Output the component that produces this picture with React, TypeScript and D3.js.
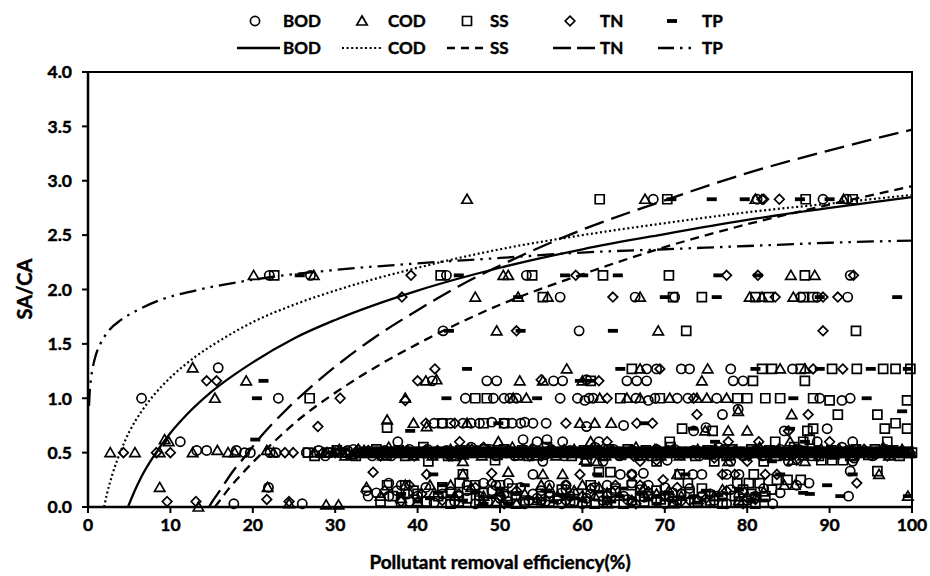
import React from 'react';
import * as d3 from 'd3';

type P = [number, number];

const xTickValues = [0, 10, 20, 30, 40, 50, 60, 70, 80, 90, 100];
const yTickValues = [0, 0.5, 1.0, 1.5, 2.0, 2.5, 3.0, 3.5, 4.0];
const seriesNames = ['BOD', 'COD', 'SS', 'TN', 'TP'];

const bodPoints: P[] = [
  [68.6,2.83],[81.2,2.83],[89.2,2.83],[92.1,2.83],
  [22.0,2.13],[27.0,2.13],[43.5,2.13],[53.2,2.13],[92.5,2.13],
  [57.3,1.93],[66.4,1.93],[71.2,1.93],[86.5,1.93],[88.5,1.93],[92.2,1.93],
  [43.1,1.62],[59.6,1.62],
  [15.8,1.28],[67.8,1.27],[69.0,1.27],[72,1.27],[73,1.27],[78,1.27],[85.5,1.27],
  [41.8,1.16],[48.4,1.16],[49.6,1.16],[56.5,1.16],[57.6,1.16],[60.5,1.17],[65.4,1.16],[66.6,1.16],[67.8,1.16],[78.3,1.16],[79.5,1.16],
  [6.5,1.0],[23.1,1.0],[45.8,1.0],[49.2,1.0],[50.5,1.0],[51.2,1.0],[52,1.0],[57.3,1.0],[59.4,1.0],[60.3,0.98],[60.8,1.0],[61.3,1.0],[66.5,1.0],[68.0,0.98],[68.8,1.0],[71.5,1.0],[72.8,1.0],[76.3,1.0],[88.8,1.0],[91.5,0.98],[92.5,1.0],
  [77,0.85],[78.9,0.9],
  [42,0.77],[43,0.77],[44,0.77],[45.5,0.77],[46.5,0.77],[47.5,0.77],[49,0.78],[50.5,0.77],[51.5,0.77],[52.5,0.77],[53,0.78],[54,0.77],[55.6,0.77],[60.5,0.74],[65,0.75],[73.5,0.7],[84.5,0.7],[89.7,0.72],[75,0.73],
  [11.2,0.6],[37.6,0.6],[52.8,0.62],[54.5,0.6],[55.7,0.62],[57.6,0.6],[62,0.6],[88.5,0.6],[92.8,0.6],
  [13.2,0.52],[14.4,0.52],[18,0.52],[19,0.5],[19.7,0.5],[22.1,0.5],[22.8,0.5],[26.5,0.5],[28,0.52],[29.3,0.5],[31.5,0.52],[33,0.5],[34.5,0.47],[36,0.52],[37.5,0.5],[39,0.53],[40.5,0.5],[42,0.48],[43.5,0.52],[45,0.5],[46.5,0.55],[48,0.5],[49.5,0.47],[51,0.52],[52.5,0.5],[54,0.53],[55.5,0.48],[57,0.5],[58.5,0.52],[60,0.5],[61.5,0.55],[63,0.5],[64.5,0.47],[66,0.52],[67.5,0.5],[69,0.53],[70.5,0.5],[72,0.48],[73.5,0.52],[75,0.5],[76.5,0.55],[78,0.5],[79.5,0.47],[81,0.52],[82.5,0.5],[84,0.53],[85.5,0.48],[87,0.5],[88.5,0.52],[90,0.5],[91.5,0.55],[93,0.45],[94.5,0.5],[96,0.5],[97.5,0.52],[99,0.5],
  [28.8,0.47],[30.5,0.5],[32.2,0.53],[33.8,0.5],[35.3,0.5],[36.8,0.47],[38.2,0.5],[39.8,0.5],[41.2,0.53],[42.8,0.5],[44.2,0.47],[45.8,0.5],[47.2,0.52],[48.8,0.53],[50.2,0.5],[51.8,0.47],[53.2,0.5],[54.8,0.5],[56.2,0.53],[57.8,0.47],[59.2,0.5],[60.8,0.52],[62.2,0.47],[63.8,0.53],[65.2,0.5],[66.8,0.47],[68.2,0.5],[69.8,0.5],[71.2,0.53],[72.8,0.5],[74.2,0.47],[75.8,0.5],[77.2,0.53],[78.8,0.5],[80.2,0.5],[81.8,0.47],[83.2,0.5],[84.8,0.5],[86.2,0.53],[87.8,0.47],[89.2,0.5],[90.8,0.5],[92.2,0.52],[95.2,0.47],[96.8,0.53],[98.2,0.5],[99.6,0.5],
  [55.2,0.42],[62.5,0.42],[70.3,0.43],[85,0.42],[92.8,0.42],[78,0.42],
  [54,0.3],[64.6,0.3],[66,0.3],[67.4,0.31],[73.4,0.3],[74.5,0.3],[77.5,0.3],[79,0.3],[92.5,0.33],
  [36.5,0.22],[38,0.2],[46,0.2],[48,0.22],[49.5,0.2],[51,0.22],[56,0.2],[58,0.2],[63,0.2],[66,0.22],[68,0.2],[86,0.2],[87.5,0.22],[21.9,0.18],[33.8,0.15],[35,0.13],
  [34,0.1],[36.5,0.1],[40,0.1],[45,0.1],[47.5,0.1],[50,0.08],[52,0.1],[54,0.12],[56,0.1],[58.5,0.1],[61,0.12],[63,0.1],[65,0.1],[68,0.1],[70.5,0.1],[72,0.12],[74.5,0.1],[77,0.1],[79,0.1],[81,0.1],[92.3,0.1],
  [37.5,0.15],[39,0.05],[41,0.18],[43,0.12],[44.5,0.05],[46,0.15],[48.5,0.05],[49,0.15],[51,0.05],[52.5,0.18],[53.5,0.06],[55,0.15],[57,0.07],[58,0.16],[59,0.05],[61.5,0.18],[62.5,0.06],[64,0.15],[65.5,0.07],[67,0.16],[69,0.06],[70,0.18],[71.5,0.06],[73,0.17],[76,0.06],[78,0.16],[80,0.06],[82,0.17],[84,0.13],
  [17.7,0.03],[26,0.03],[42,0.04],[47,0.03],[53,0.03],[55.5,0.05],[57.5,0.03],[60,0.03],[66,0.05],[70,0.03],[75,0.04],[77.5,0.03],[83.1,0.03],
  [38.8,0.12],[44,0.14],[50.5,0.12],[54.5,0.08],[57.5,0.13],[60.5,0.08],[63.5,0.13],[67.5,0.09],[71,0.13],[75.5,0.12],[79.5,0.13],
];

const codPoints: P[] = [
  [46,2.83],[67.6,2.83],[81.0,2.83],[91.7,2.83],
  [20.1,2.13],[27.4,2.13],[50.4,2.13],[51.0,2.13],[85.3,2.13],[88.2,2.13],
  [47,1.93],[52.2,1.93],[55.8,1.93],[67,1.93],[80.3,1.93],[81.8,1.93],[85.6,1.93],
  [49.6,1.62],[69.2,1.62],
  [12.7,1.28],[58.1,1.27],[67,1.27],[75.2,1.27],[84,1.27],[87,1.27],
  [19.2,1.16],[41,1.16],[42.3,1.17],[52.4,1.16],[55.2,1.16],[74.5,1.16],[60,1.16],
  [15.4,1.0],[38.5,1.0],[51.6,1.0],[53.2,1.0],[62.1,1.0],[65.4,1.0],[67,1.0],[70.6,1.0],[73.9,1.0],[75.1,1.0],[77.5,1.0],
  [85.4,0.85],[78.9,0.88],
  [36.3,0.8],[39.5,0.77],[41.1,0.74],[46,0.77],[59.7,0.77],[61.5,0.77],[63.5,0.77],[74.9,0.7],[77.7,0.7],[80,0.7],
  [9.3,0.62],[9.8,0.6],[49.8,0.6],[61,0.6],[85.2,0.6],
  [2.7,0.5],[5.7,0.5],[8.7,0.5],[12.7,0.5],[15.7,0.52],[17,0.5],[17.8,0.5],[21.7,0.52],[22.5,0.5],[27.5,0.5],
  [29,0.5],[30.5,0.53],[32,0.48],[33.5,0.52],[35,0.5],[36.5,0.55],[38,0.5],[39.5,0.47],[41,0.52],[42.5,0.5],[44,0.53],[45.5,0.48],[47,0.5],[48.5,0.52],[50,0.5],[51.5,0.55],[53,0.5],[54.5,0.47],[56,0.52],[57.5,0.5],[59,0.53],[60.5,0.48],[62,0.5],[63.5,0.52],[65,0.5],[66.5,0.55],[68,0.5],[69.5,0.47],[71,0.52],[72.5,0.5],[74,0.53],[75.5,0.48],[77,0.5],[78.5,0.52],[80,0.5],[81.5,0.55],[83,0.5],[84.5,0.47],[86,0.52],[87.5,0.5],[89,0.53],[90.5,0.48],[92,0.5],[93.5,0.52],[95,0.5],[96.5,0.55],[98,0.5],
  [29.8,0.5],[31.2,0.47],[32.8,0.53],[34.2,0.5],[35.8,0.47],[37.2,0.5],[38.8,0.52],[40.2,0.5],[41.8,0.47],[43.2,0.5],[44.8,0.5],[46.2,0.53],[47.8,0.47],[49.2,0.5],[50.8,0.5],[52.2,0.47],[53.8,0.53],[55.2,0.5],[56.8,0.47],[58.2,0.5],[59.8,0.5],[61.2,0.53],[62.8,0.47],[64.2,0.5],[65.8,0.5],[67.2,0.47],[68.8,0.53],[70.2,0.5],[71.8,0.47],[73.2,0.5],[74.8,0.5],[76.2,0.53],[77.8,0.47],[79.2,0.5],[80.8,0.5],[82.2,0.47],[83.8,0.53],[85.2,0.5],[86.8,0.47],[88.2,0.5],[89.8,0.5],[91.2,0.53],[92.8,0.47],[94.2,0.5],[95.8,0.5],[97.2,0.47],[98.8,0.53],[99.8,0.5],
  [45.5,0.42],[60.3,0.43],[61.8,0.42],[77.7,0.42],[85.5,0.43],[87,0.42],
  [45.5,0.3],[51,0.32],[55.2,0.3],[57.6,0.3],[71.5,0.3],[96,0.3],
  [8.7,0.18],[21.8,0.18],[33.8,0.18],[41.5,0.2],[44,0.2],[55,0.2],[60,0.2],[62,0.18],[84.5,0.2],[85.8,0.2],
  [35.5,0.1],[38,0.08],[44.5,0.1],[48,0.1],[53,0.12],[57,0.1],[61.5,0.1],[64.5,0.1],[69,0.12],[72,0.1],[76,0.1],[80,0.1],[99.5,0.1],
  [38.5,0.2],[40,0.05],[42,0.13],[46.5,0.18],[50,0.14],[54.5,0.06],[56,0.17],[59,0.15],[63,0.13],[66,0.06],[67.5,0.18],[70.5,0.15],[74,0.07],[77,0.16],[79,0.06],[82,0.14],
  [13.4,0.0],[24.4,0.03],[28.9,0.02],[30.4,0.02],[47.9,0.05],[49.6,0.05],[52,0.03],[63,0.03],[71,0.03],
];

const ssPoints: P[] = [
  [62.1,2.83],[70.3,2.83],[87.1,2.83],[92.8,2.83],
  [22.6,2.13],[42.8,2.13],[53.9,2.13],[62.5,2.13],[70.5,2.13],[87,2.13],
  [55.2,1.93],[71.0,1.93],[74.5,1.93],[81.0,1.93],[82.6,1.93],[86.8,1.93],[88,1.93],
  [72.6,1.62],[93.2,1.62],
  [66,1.27],[81.8,1.27],[83,1.27],[86.5,1.27],[90.3,1.27],[93.3,1.27],[96.5,1.27],[98,1.27],[99.8,1.27],
  [61,1.16],[80.7,1.16],[87,1.16],
  [26.9,1.0],[47,1.0],[48.4,1.0],[64.6,1.0],[69.4,1.0],[78.8,1.0],[80,1.0],[82.2,1.0],[84,1.0],[88,1.0],[90,0.98],[99.4,0.98],
  [91,0.85],[95.8,0.85],
  [36.3,0.73],[43,0.77],[48,0.77],[50.5,0.77],[72.1,0.72],[75.8,0.7],[87.3,0.7],[88,0.72],[96.7,0.72],[98,0.77],[99.4,0.72],
  [70.6,0.6],[83.4,0.6],[86.8,0.6],[87.6,0.62],[97,0.6],
  [26.7,0.5],[30.2,0.52],[31.2,0.5],[33.7,0.5],[36.2,0.48],[37.7,0.52],[39.2,0.5],[40.7,0.55],[42.2,0.5],[43.7,0.47],[45.2,0.52],[46.7,0.5],[48.2,0.53],[49.7,0.48],[51.2,0.5],[52.7,0.52],[54.2,0.5],[55.7,0.55],[57.2,0.5],[58.7,0.47],[60.2,0.52],[61.7,0.5],[63.2,0.53],[64.7,0.48],[66.2,0.5],[67.7,0.52],[69.2,0.5],[70.7,0.55],[72.2,0.5],[73.7,0.47],[75.2,0.52],[76.7,0.5],[78.2,0.53],[79.7,0.48],[81.2,0.5],[82.7,0.52],[84.2,0.5],[85.7,0.55],[87.2,0.5],[88.7,0.47],[90.2,0.52],[91.7,0.5],[93.2,0.53],[94.7,0.48],[96.2,0.5],[97.7,0.52],[99.2,0.5],
  [27.5,0.47],[29,0.5],[32.5,0.47],[35,0.53],[38.5,0.47],[41.5,0.5],[44.5,0.47],[47.5,0.5],[50.5,0.53],[53.5,0.47],[56.5,0.5],[59.5,0.5],[62.5,0.47],[65.5,0.53],[68.5,0.47],[71.5,0.5],[74.5,0.5],[77.5,0.47],[80.5,0.53],[83.5,0.47],[86.5,0.5],[89.5,0.5],[92.5,0.47],[95.5,0.53],[98.5,0.47],[100,0.5],
  [41.3,0.42],[49.4,0.43],[60.5,0.42],[69,0.42],[76,0.42],[82,0.42],[89,0.43],[90.3,0.43],[91.6,0.43],
  [45.5,0.3],[62,0.32],[63.4,0.32],[71.8,0.3],[80.8,0.3],[95.8,0.33],
  [36.3,0.2],[38.5,0.2],[45.1,0.22],[47,0.2],[50,0.2],[61,0.2],[66,0.2],[72.8,0.22],[78.8,0.22],[80.2,0.22],[81.5,0.22],[83.6,0.25],[84.9,0.25],[86.5,0.25],
  [37,0.1],[40,0.12],[42.5,0.1],[46,0.08],[50.8,0.1],[55,0.1],[59.5,0.12],[62,0.1],[67,0.1],[70,0.1],[73,0.12],[76,0.1],[78.5,0.1],[80.5,0.12],[82.2,0.1],
  [38,0.05],[39.5,0.15],[43,0.18],[45,0.05],[48,0.13],[51.5,0.17],[53,0.06],[57.5,0.16],[60.5,0.05],[64,0.17],[67.5,0.05],[69,0.15],[71,0.05],[74.5,0.17],[75.5,0.06],[79.5,0.16],[83,0.16],
  [35.5,0.05],[41.1,0.05],[44,0.03],[52,0.03],[56,0.05],[61.5,0.03],[65,0.03],[74,0.05],[77,0.03],[81,0.03],
  [47.5,0.06],[54,0.04],[58.5,0.06],[63,0.04],[69.5,0.07],[72.5,0.04],[79,0.05],
];

const tnPoints: P[] = [
  [81.8,2.83],[82.0,2.83],[83.9,2.83],
  [39.2,2.13],[59.2,2.13],[77.5,2.13],[81.3,2.13],[92.9,2.13],
  [38.1,1.93],[63.7,1.93],[83.4,1.93],[89.2,1.93],[91.0,1.93],
  [52,1.62],[89.2,1.62],
  [42.1,1.27],[69.4,1.27],[91.6,1.27],[88,1.27],
  [14.4,1.16],[15.6,1.16],[40,1.16],[55,1.17],[62,1.16],
  [30.6,1.0],[38.5,0.98],[63,1.0],[73.5,1.0],
  [27.9,0.74],[41,0.77],[44.5,0.77],[58,0.77],[66.6,0.77],[68.5,0.77],[73.9,0.85],[87.4,0.85],[85,0.7],
  [45.1,0.6],[63,0.6],[77.7,0.6],[81.4,0.6],[90,0.6],
  [4.3,0.5],[8.3,0.5],[10,0.5],[23.9,0.5],[24.9,0.5],
  [28.5,0.5],[31.5,0.48],[34,0.52],[36.8,0.5],[39.6,0.47],[42.4,0.52],[45.2,0.5],[48,0.55],[50.8,0.5],[53.6,0.47],[56.4,0.52],[59.2,0.5],[62,0.53],[64.8,0.48],[67.6,0.5],[70.4,0.52],[73.2,0.5],[76,0.45],[78.8,0.5],[81.6,0.53],[84.4,0.48],[87.2,0.5],[90,0.52],[92.8,0.5],[95.6,0.48],[98.4,0.5],
  [30,0.5],[32.8,0.53],[35.5,0.47],[38.2,0.5],[41,0.5],[43.8,0.47],[46.6,0.53],[49.4,0.5],[52.2,0.5],[55,0.47],[57.8,0.53],[60.6,0.5],[63.4,0.5],[66.2,0.47],[69,0.53],[71.8,0.5],[74.6,0.5],[77.4,0.53],[80.2,0.47],[83,0.5],[85.8,0.53],[88.6,0.47],[91.4,0.5],[94.2,0.53],[97,0.47],[99.8,0.5],
  [67,0.42],[69,0.43],[80,0.42],[86,0.43],
  [41.1,0.3],[34.6,0.32],[59.7,0.3],[77,0.3],[78.5,0.3],[82.2,0.3],[83.6,0.3],[49,0.31],[66,0.3],
  [39,0.2],[49,0.22],[58,0.2],[64,0.2],[69.8,0.25],[93.3,0.22],[67,0.2],
  [45,0.12],[50,0.1],[56,0.12],[60,0.1],[70,0.1],[75,0.08],
  [36,0.15],[40.5,0.12],[43,0.06],[47,0.18],[52,0.15],[55,0.05],[61,0.17],[63,0.06],[68,0.14],[71.5,0.18],[73,0.06],[77.5,0.15],[81,0.07],
  [9.6,0.05],[13.1,0.05],[21.7,0.07],[24.4,0.05],[38,0.05],[50.5,0.03],[58,0.05],[66.5,0.03],[72,0.05],[79.5,0.03],
];

const tpScattered: P[] = [
  [70.8,2.83],[75.7,2.83],[79.7,2.83],[86.4,2.83],[90,2.83],
  [25.7,2.13],[45,2.13],[57.9,2.13],[60.1,2.13],[64.3,2.13],[76.5,2.13],[81.3,2.13],
  [52.2,1.93],[70,1.93],[76.3,1.93],[88.8,1.93],[98.2,1.93],
  [43.8,1.62],[52.5,1.62],[63.7,1.62],
  [46,1.27],[64.6,1.27],[81,1.27],[88.8,1.27],[95,1.27],[99.5,1.27],
  [21.3,1.16],[59.7,1.16],[61,1.16],
  [20.5,1.0],[43.5,1.0],[54.5,1.0],[85.6,1.0],[94.5,1.0],
  [98.8,0.88],
  [39.1,0.7],[49.8,0.77],[73.4,0.72],[85.2,0.72],[67.5,0.77],
  [20.3,0.62],[76.1,0.6],[87,0.6],
  [29.5,0.5],[32.5,0.5],[28.1,0.47],[30.9,0.53],[31.8,0.47],
  [83,0.42],
  [41.9,0.3],[61.8,0.3],[72.5,0.3],[84,0.3],[92.8,0.3],
  [89.7,0.2],[43,0.2],[53,0.2],
  [41.5,0.08],[44,0.1],[58,0.1],[73.5,0.1],[86.8,0.13],[87.6,0.12],[91.3,0.1],
  [38,0.12],[47,0.13],[50,0.17],[55.5,0.15],[60,0.06],[62,0.14],[65,0.17],[68,0.07],[70.5,0.13],[75,0.15],[79,0.16],[82,0.06],
  [40,0.05],[45.5,0.06],[48,0.03],[53.5,0.08],[56.5,0.05],[59,0.08],[63.5,0.05],[66,0.08],[71,0.06],[74,0.04],[77,0.07],[80.5,0.05],
  [42.5,0.13],[49,0.09],[52,0.12],[57,0.11],[64.5,0.1],[67,0.12],[72,0.09],[76.5,0.11],[81,0.12],
  [51,0.03],[69,0.03],[99.5,0.1],
];

// TP readings packed in the dense 0.5 band (x values per sub-row)
const tpBandX465 = [33.0,34.2,35.3,36.4,37.6,38.7,39.8,41.0,42.1,43.2,44.4,45.5,46.6,47.8,48.9,50.0,51.2,52.3,53.4,54.6,55.7,56.8,58.0,59.1,60.2,61.4,62.5,63.6,64.8,65.9,67.0,68.2,69.3,70.4,71.6,72.7,73.8,75.0,76.1,77.2,78.4,79.5,80.6,81.8,82.9,84.0,85.2,86.3,87.4,88.6,89.7,90.8,92.0,93.1,94.2,95.4,96.5,97.6,98.8,99.9];
const tpBandX490 = [33.6,34.7,35.9,37.0,38.1,39.3,40.4,41.5,42.7,43.8,44.9,46.1,47.2,48.3,49.5,50.6,51.7,52.9,54.0,55.1,56.3,57.4,58.5,59.7,60.8,61.9,63.1,64.2,65.3,66.5,67.6,68.7,69.9,71.0,72.1,73.3,74.4,75.5,76.7,77.8,78.9,80.1,81.2,82.3,83.5,84.6,85.7,86.9,88.0,89.1,90.3,91.4,92.5,93.7,94.8,95.9,97.1,98.2,99.3];
const tpBandX515 = [33.3,34.5,35.6,36.7,37.9,39.0,40.1,41.3,42.4,43.5,44.7,45.8,46.9,48.1,49.2,50.3,51.5,52.6,53.7,54.9,56.0,57.1,58.3,59.4,60.5,61.7,62.8,63.9,65.1,66.2,67.3,68.5,69.6,70.7,71.9,73.0,74.1,75.3,76.4,77.5,78.7,79.8,80.9,82.1,83.2,84.3,85.5,86.6,87.7,88.9,90.0,91.1,92.3,93.4,94.5,95.7,96.8,97.9,99.1];
const tpBandX540 = [33.9,35.0,36.2,37.3,38.4,39.6,40.7,41.8,43.0,44.1,45.2,46.4,47.5,48.6,49.8,50.9,52.0,53.2,54.3,55.4,56.6,57.7,58.8,60.0,61.1,62.2,63.4,64.5,65.6,66.8,67.9,69.0,70.2,71.3,72.4,73.6,74.7,75.8,77.0,78.1,79.2,80.4,81.5,82.6,83.8,84.9,86.0,87.2,88.3,89.4,90.6,91.7,92.8,94.0,95.1,96.2,97.4,98.5,99.6];

const tpPoints: P[] = [
  ...tpScattered,
  ...tpBandX465.map(v => [v, 0.465] as P),
  ...tpBandX490.map(v => [v, 0.49] as P),
  ...tpBandX515.map(v => [v, 0.515] as P),
  ...tpBandX540.map(v => [v, 0.54] as P),
];

// Trend lines
const bodTrend: P[] = [[4.85,0],[5.5,0.12],[6.5,0.28],[8,0.47],[10,0.68],[12,0.85],[15,1.06],[20,1.33],[25,1.55],[30,1.72],[40,1.99],[50,2.2],[60,2.37],[70,2.51],[80,2.64],[90,2.75],[100,2.85]];
const codTrend: P[] = [[1.95,0],[2.3,0.12],[3,0.31],[4,0.52],[5,0.69],[6.5,0.88],[8,1.03],[10,1.19],[13,1.38],[16,1.53],[20,1.7],[25,1.86],[30,1.99],[40,2.2],[50,2.37],[60,2.5],[70,2.61],[80,2.71],[90,2.79],[100,2.87]];
const ssTrend: P[] = [[15.4,0],[16,0.06],[17,0.16],[18.5,0.29],[20,0.41],[23,0.63],[26,0.83],[30,1.05],[35,1.29],[40,1.5],[50,1.86],[60,2.14],[70,2.39],[80,2.6],[90,2.78],[100,2.95]];
const tnTrend: P[] = [[14.7,0],[15,0.04],[16,0.15],[17.5,0.32],[19,0.46],[21,0.65],[24,0.89],[27,1.1],[30,1.29],[35,1.57],[40,1.81],[45,2.03],[50,2.22],[60,2.55],[70,2.82],[80,3.07],[90,3.28],[100,3.47]];
const tpTrend: P[] = [[0.12,0.93],[0.2,1.05],[0.35,1.17],[0.6,1.29],[1,1.41],[1.5,1.5],[2.5,1.62],[4,1.72],[6,1.81],[9,1.91],[13,1.99],[20,2.09],[30,2.18],[40,2.24],[50,2.29],[60,2.34],[70,2.37],[80,2.4],[90,2.43],[100,2.45]];

const FONT = 'Lato, "Open Sans", sans-serif';

const circlePath = 'M4.6,0A4.6,4.6,0,1,1,-4.6,0A4.6,4.6,0,1,1,4.6,0Z';
const trianglePath = 'M0,-5L5.2,4L-5.2,4Z';
const squarePath = 'M-4.5,-4.5H4.5V4.5H-4.5Z';
const diamondPath = 'M0,-4.8L4.8,0L0,4.8L-4.8,0Z';

function Marker({ kind, x, y }: { kind: number; x: number; y: number }) {
  if (kind === 4) {
    return <rect x={x - 5} y={y - 1.9} width={10} height={3.8} fill="#000" />;
  }
  const d = [circlePath, trianglePath, squarePath, diamondPath][kind];
  return <path d={d} transform={`translate(${x},${y})`} fill="none" stroke="#000" strokeWidth={1.7} />;
}

const dashes = ['', '2,2.6', '9,6', '20,8', '17,6,2.5,6,2.5,6'];
const legendDashes = ['', '2,2.6', '8,6', '18,6', '16,6,2.5,6,2.5,6'];

const textProps = { fontWeight: 700, stroke: '#000', strokeWidth: 0.45, fill: '#000' };

export default function App() {
  const x = d3.scaleLinear().domain([0, 100]).range([88, 912]);
  const y = d3.scaleLinear().domain([0, 4]).range([507, 72]);
  const line = d3.line<P>().x(d => x(d[0])).y(d => y(d[1])).curve(d3.curveMonotoneX);

  const pointSets = [bodPoints, codPoints, ssPoints, tnPoints, tpPoints];
  const trends = [bodTrend, codTrend, ssTrend, tnTrend, tpTrend];
  const [x0, x1] = x.range();
  const [yb, yt] = y.range();

  const legendMarkerX = [255, 362, 467, 570, 672];
  const legendTextX = [283, 388, 490, 600, 702];
  const legendLine: [number, number][] = [[237, 280], [342, 381], [447, 487], [553, 596], [658, 694]];

  return (
    <svg width={930} height={576} style={{ position: 'absolute', left: 0, top: 0, background: '#fff' }} fontFamily={FONT}>
      <rect x={0} y={0} width={930} height={576} fill="#fff" />
      <rect x={x0} y={yt} width={x1 - x0} height={yb - yt} fill="none" stroke="#000" strokeWidth={2} />
      {pointSets.map((pts, k) => (
        <g key={k}>
          {pts.map((p, i) => <Marker key={i} kind={k} x={x(p[0])} y={y(p[1])} />)}
        </g>
      ))}
      {trends.map((t, k) => (
        <path key={k} d={line(t) || ''} fill="none" stroke="#000" strokeWidth={k === 1 ? 2.2 : 2.3}
          strokeDasharray={dashes[k] || undefined} />
      ))}
      <line x1={x0} x2={x1} y1={yb} y2={yb} stroke="#000" strokeWidth={2.5} />
      <line x1={x0} x2={x0} y1={yb} y2={yt} stroke="#000" strokeWidth={2.5} />
      {xTickValues.map(v => (
        <g key={v}>
          <line x1={x(v)} x2={x(v)} y1={yb} y2={yb + 6} stroke="#000" strokeWidth={2} />
          <text x={x(v)} y={yb + 24} textAnchor="middle" fontSize={17.5} {...textProps}>{v}</text>
        </g>
      ))}
      {yTickValues.map(v => (
        <g key={v}>
          <line x1={x0 - 6} x2={x0} y1={y(v)} y2={y(v)} stroke="#000" strokeWidth={2} />
          <text x={x0 - 16} y={y(v)} dy="0.36em" textAnchor="end" fontSize={17.5} {...textProps}>{v.toFixed(1)}</text>
        </g>
      ))}
      <text transform="translate(32,289) rotate(-90)" textAnchor="middle" fontSize={20} {...textProps}>SA/CA</text>
      <text x={500} y={569} textAnchor="middle" fontSize={19} {...textProps}>Pollutant removal efficiency(%)</text>
      {seriesNames.map((name, k) => (
        <g key={name}>
          <Marker kind={k} x={legendMarkerX[k]} y={21} />
          <text x={legendTextX[k]} y={21} dy="0.36em" fontSize={17} {...textProps}>{name}</text>
          <line x1={legendLine[k][0]} x2={legendLine[k][1]} y1={48} y2={48} stroke="#000" strokeWidth={k === 1 ? 2.2 : 2.4}
            strokeDasharray={legendDashes[k] || undefined} />
          <text x={legendTextX[k]} y={48} dy="0.36em" fontSize={17} {...textProps}>{name}</text>
        </g>
      ))}
    </svg>
  );
}
